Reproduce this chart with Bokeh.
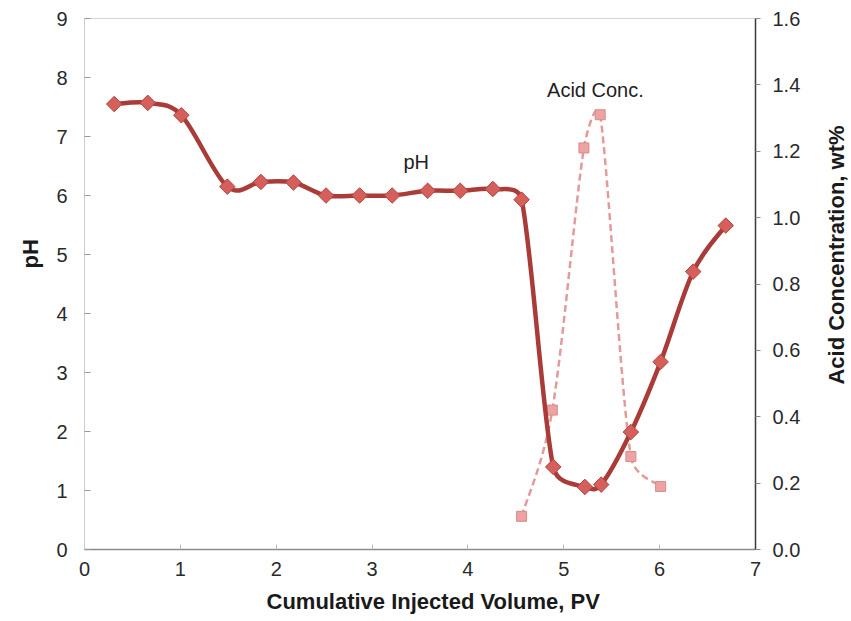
import numpy as np
from bokeh.plotting import figure
from bokeh.layouts import row
from bokeh.models import Range1d, LinearAxis, Label, Title, FixedTicker, PrintfTickFormatter, Div
from bokeh.embed import file_html
from bokeh.resources import INLINE

# pH of the effluent vs cumulative injected pore volumes
pv_ph = [0.31, 0.66, 1.01, 1.49, 1.84, 2.18, 2.52, 2.87, 3.21, 3.58,
         3.92, 4.26, 4.56, 4.89, 5.22, 5.39, 5.70, 6.01, 6.35, 6.69]
ph = [7.55, 7.57, 7.36, 6.15, 6.23, 6.22, 6.00, 6.00, 6.00, 6.08,
      6.08, 6.11, 5.93, 1.40, 1.06, 1.10, 1.99, 3.18, 4.71, 5.49]

# acid concentration in the effluent, wt%
pv_acid = [4.56, 4.88, 5.21, 5.38, 5.70, 6.01]
acid = [0.10, 0.42, 1.21, 1.31, 0.28, 0.19]

x_ticks = [0, 1, 2, 3, 4, 5, 6, 7]
ph_ticks = [0, 1, 2, 3, 4, 5, 6, 7, 8, 9]
acid_ticks = [0.0, 0.2, 0.4, 0.6, 0.8, 1.0, 1.2, 1.4, 1.6]

W, H = 820, 621          # figure; a narrow side strip holds the right-hand title
STRIP_W = 851 - W
BL, BR, BT, BB = 84, 65, 18, 70
FW, FH = W - BL - BR, H - BT - BB

X0, X1 = 0, 7
PH0, PH1 = 0, 9
AC0, AC1 = 0, 1.6

FONT = "Liberation Sans"


def smooth_controls(xs, ys, kx, ky):
    """Bezier control points for a smoothed line through the points
    (tangent parallel to the neighbour chord, handle length limited by
    the segment length, evaluated in pixel space)."""
    x = np.asarray(xs, float) * kx
    y = np.asarray(ys, float) * ky
    n = len(x)
    xp = np.concatenate([[x[0]], x, [x[-1]]])
    yp = np.concatenate([[y[0]], y, [y[-1]]])
    x0, y0, x1, y1 = x[:-1], y[:-1], x[1:], y[1:]
    seg = np.hypot(x1 - x0, y1 - y0)
    ax, ay = xp[2:n + 1] - xp[0:n - 1], yp[2:n + 1] - yp[0:n - 1]
    bx, by = xp[3:n + 2] - xp[1:n], yp[3:n + 2] - yp[1:n]
    da = np.hypot(ax, ay)
    db = np.hypot(bx, by)
    fa = np.minimum(1 / 6, 0.5 * seg / np.where(da > 0, da, 1))
    fb = np.minimum(1 / 6, 0.5 * seg / np.where(db > 0, db, 1))
    cx0, cy0 = x0 + fa * ax, y0 + fa * ay
    cx1, cy1 = x1 - fb * bx, y1 - fb * by
    return dict(x0=x0 / kx, y0=y0 / ky, x1=x1 / kx, y1=y1 / ky,
                cx0=cx0 / kx, cy0=cy0 / ky, cx1=cx1 / kx, cy1=cy1 / ky)


kx = FW / (X1 - X0)
k_ph = FH / (PH1 - PH0)
k_ac = FH / (AC1 - AC0)

p = figure(width=W, height=H, x_range=Range1d(X0, X1), y_range=Range1d(PH0, PH1),
           output_backend="svg", toolbar_location=None,
           min_border_left=BL, min_border_right=BR, min_border_top=BT, min_border_bottom=BB)
p.extra_y_ranges = {"acid": Range1d(AC0, AC1)}
p.background_fill_color = "white"
p.border_fill_color = "white"
p.outline_line_color = "#d4d4d4"
p.outline_line_width = 1
p.xgrid.visible = False
p.ygrid.visible = False

TITLE_STYLE = dict(text_font=FONT, text_font_size="22px", text_font_style="bold",
                   text_color="#1a1a1a")

# bottom axis
xa = p.xaxis[0]
xa.ticker = FixedTicker(ticks=x_ticks)
xa.axis_line_color = "#8a8a8a"
xa.axis_line_width = 1.5
xa.major_tick_in = 5
xa.major_tick_out = 0
xa.major_tick_line_color = "#b8b8b8"
xa.minor_tick_line_color = None
xa.major_label_standoff = 12
xa.major_label_text_font = FONT
xa.major_label_text_font_size = "20px"
xa.major_label_text_color = "#2a2a2a"

# left axis
ya = p.yaxis[0]
ya.ticker = FixedTicker(ticks=ph_ticks)
ya.axis_line_color = "#cccccc"
ya.major_tick_in = 6
ya.major_tick_out = 0
ya.major_tick_line_color = "#9a9a9a"
ya.minor_tick_line_color = None
ya.major_label_standoff = 17
ya.major_label_text_font = FONT
ya.major_label_text_font_size = "20px"
ya.major_label_text_color = "#2a2a2a"

# right axis for the acid concentration
ra = LinearAxis(y_range_name="acid", ticker=FixedTicker(ticks=acid_ticks),
                formatter=PrintfTickFormatter(format="%.1f"))
ra.axis_line_color = "#3a3a3a"
ra.axis_line_width = 1.5
ra.major_tick_in = 0
ra.major_tick_out = 5
ra.major_tick_line_color = "#8a8a8a"
ra.minor_tick_line_color = None
ra.major_label_standoff = 12
ra.major_label_text_font = FONT
ra.major_label_text_font_size = "20px"
ra.major_label_text_color = "#2a2a2a"
p.add_layout(ra, "right")

# acid concentration: dashed smoothed line with square markers
ac = smooth_controls(pv_acid, acid, kx, k_ac)
p.bezier(line_color="#e39a9a", line_width=2.5, line_dash="7 4",
         y_range_name="acid", **ac)
p.scatter(pv_acid, acid, marker="square", size=10, y_range_name="acid",
          fill_color="#eba3a3", line_color="#d98a8a", line_width=1)

# pH: thick smoothed line with diamond markers
pc = smooth_controls(pv_ph, ph, kx, k_ph)
p.bezier(line_color="#a93c38", line_width=4.5, **pc)
p.scatter(pv_ph, ph, marker="square", angle=np.pi / 4, size=11,
          fill_color="#d45f5b", line_color="#b3443f", line_width=1)

# series annotations
p.add_layout(Label(x=3.46, y=6.57, text="pH", text_font=FONT, text_font_size="20px",
                   text_color="#1e1e1e", text_align="center", text_baseline="middle"))
p.add_layout(Label(x=5.33, y=7.79, text="Acid Conc.", text_font=FONT, text_font_size="20px",
                   text_color="#1e1e1e", text_align="center", text_baseline="middle"))

# axis titles
p.add_layout(Title(text="Cumulative Injected Volume, PV", align="left", offset=182,
                   standoff=16, **TITLE_STYLE), "below")
p.add_layout(Title(text="pH", align="left", offset=281, standoff=22, **TITLE_STYLE), "left")

# right-hand title, set vertically and turned to read bottom to top
right_title = Div(
    width=STRIP_W, height=H,
    text=(
        f'<div style="position:relative;width:{STRIP_W}px;height:{H}px;">'
        '<div style="position:absolute;left:12px;top:250px;'
        'writing-mode:vertical-rl;transform:translate(-50%,-50%) rotate(180deg);'
        'white-space:nowrap;line-height:1;'
        f"font-family:'{FONT}';font-size:22px;font-weight:bold;color:#1a1a1a;\">"
        'Acid Concentration, wt%</div></div>'
    ),
)

layout = row(p, right_title, spacing=0)
open("out.html", "w").write(file_html(layout, INLINE))
